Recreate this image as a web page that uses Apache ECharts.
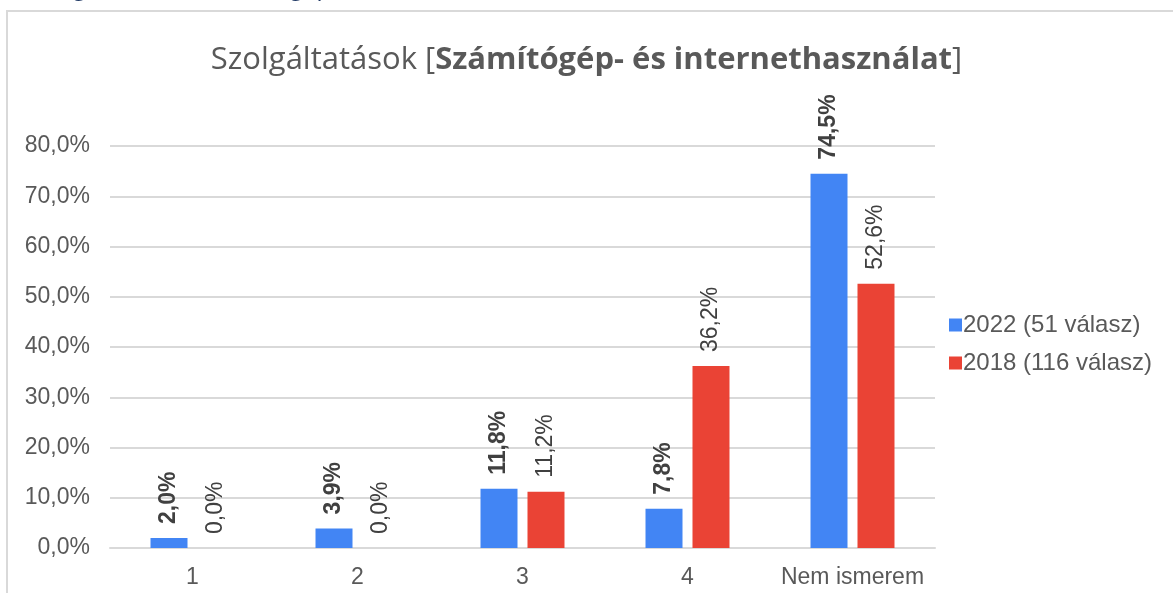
<!DOCTYPE html>
<html>
<head>
<meta charset="utf-8">
<script src="https://cdn.jsdelivr.net/npm/echarts@6/dist/echarts.min.js"></script>
<style>
  html, body { margin: 0; padding: 0; background: #fff; }
  #chart { width: 1173px; height: 593px; }
</style>
</head>
<body>
<div id="chart"></div>
<script>
// adatok
var categories = ['1', '2', '3', '4', 'Nem ismerem'];
var values2022 = [2.0, 3.9, 11.8, 7.8, 74.5];
var values2018 = [0.0, 0.0, 11.2, 36.2, 52.6];
var seriesNames = ['2022 (51 válasz)', '2018 (116 válasz)'];

var fontFam = '"Liberation Sans", Arial, sans-serif';
var titleFam = '"Open Sans", "Noto Sans", sans-serif';

function pct(v) {
    return v.toFixed(1).replace('.', ',') + '%';
}

var chart = echarts.init(document.getElementById('chart'));

var option = {
    backgroundColor: '#fff',
    animation: false,
    textStyle: { fontFamily: fontFam },
    title: {
        text: '{n|Szolgáltatások [}{b|Számítógép- és internethasználat}{n|]}',
        left: 'center',
        top: 40,
        textStyle: {
            rich: {
                n: { fontSize: 31, color: '#595959', fontWeight: 'normal', fontFamily: titleFam },
                b: { fontSize: 31, color: '#595959', fontWeight: 'bold', fontFamily: titleFam }
            }
        }
    },
    graphic: [
        {
            type: 'rect',
            shape: { x: 7, y: 11, width: 1200, height: 620 },
            style: { fill: 'none', stroke: '#d9d9d9', lineWidth: 2 },
            silent: true
        },
        {
            type: 'text',
            left: 28,
            top: -24,
            style: {
                text: 'Szolgáltatások (Számítógép- és internethasználat)',
                fontSize: 24,
                fill: '#1f3864',
                fontFamily: titleFam
            },
            silent: true
        }
    ],
    legend: {
        orient: 'vertical',
        left: 944,
        top: 308,
        itemWidth: 13,
        itemHeight: 13,
        itemGap: 14,
        icon: 'rect',
        textStyle: { fontSize: 24, color: '#595959', padding: [0, 0, 0, -4] },
        data: seriesNames
    },
    grid: {
        left: 110,
        right: 238,
        top: 146,
        bottom: 45
    },
    xAxis: {
        type: 'category',
        data: categories,
        axisLine: { lineStyle: { color: '#d9d9d9', width: 2 } },
        axisTick: { show: false },
        axisLabel: { fontSize: 23, color: '#595959', margin: 18, interval: 0 }
    },
    yAxis: {
        type: 'value',
        min: 0,
        max: 80,
        interval: 10,
        axisLine: { show: false },
        axisTick: { show: false },
        splitLine: { lineStyle: { color: '#d9d9d9', width: 2 } },
        axisLabel: {
            fontSize: 23,
            color: '#595959',
            margin: 20,
            formatter: function (v) { return pct(v); }
        }
    },
    series: [
        {
            name: seriesNames[0],
            type: 'bar',
            data: values2022,
            barWidth: 37,
            barGap: '27%',
            itemStyle: { color: '#4285f4' },
            label: {
                show: true,
                position: 'top',
                rotate: 90,
                align: 'left',
                verticalAlign: 'middle',
                distance: 14,
                fontSize: 23,
                fontWeight: 'bold',
                color: '#404040',
                formatter: function (p) { return pct(p.value); }
            }
        },
        {
            name: seriesNames[1],
            type: 'bar',
            data: values2018,
            barWidth: 37,
            itemStyle: { color: '#ea4335' },
            label: {
                show: true,
                position: 'top',
                rotate: 90,
                align: 'left',
                verticalAlign: 'middle',
                distance: 14,
                fontSize: 23,
                color: '#404040',
                formatter: function (p) { return pct(p.value); }
            }
        }
    ]
};

chart.setOption(option);
</script>
</body>
</html>
